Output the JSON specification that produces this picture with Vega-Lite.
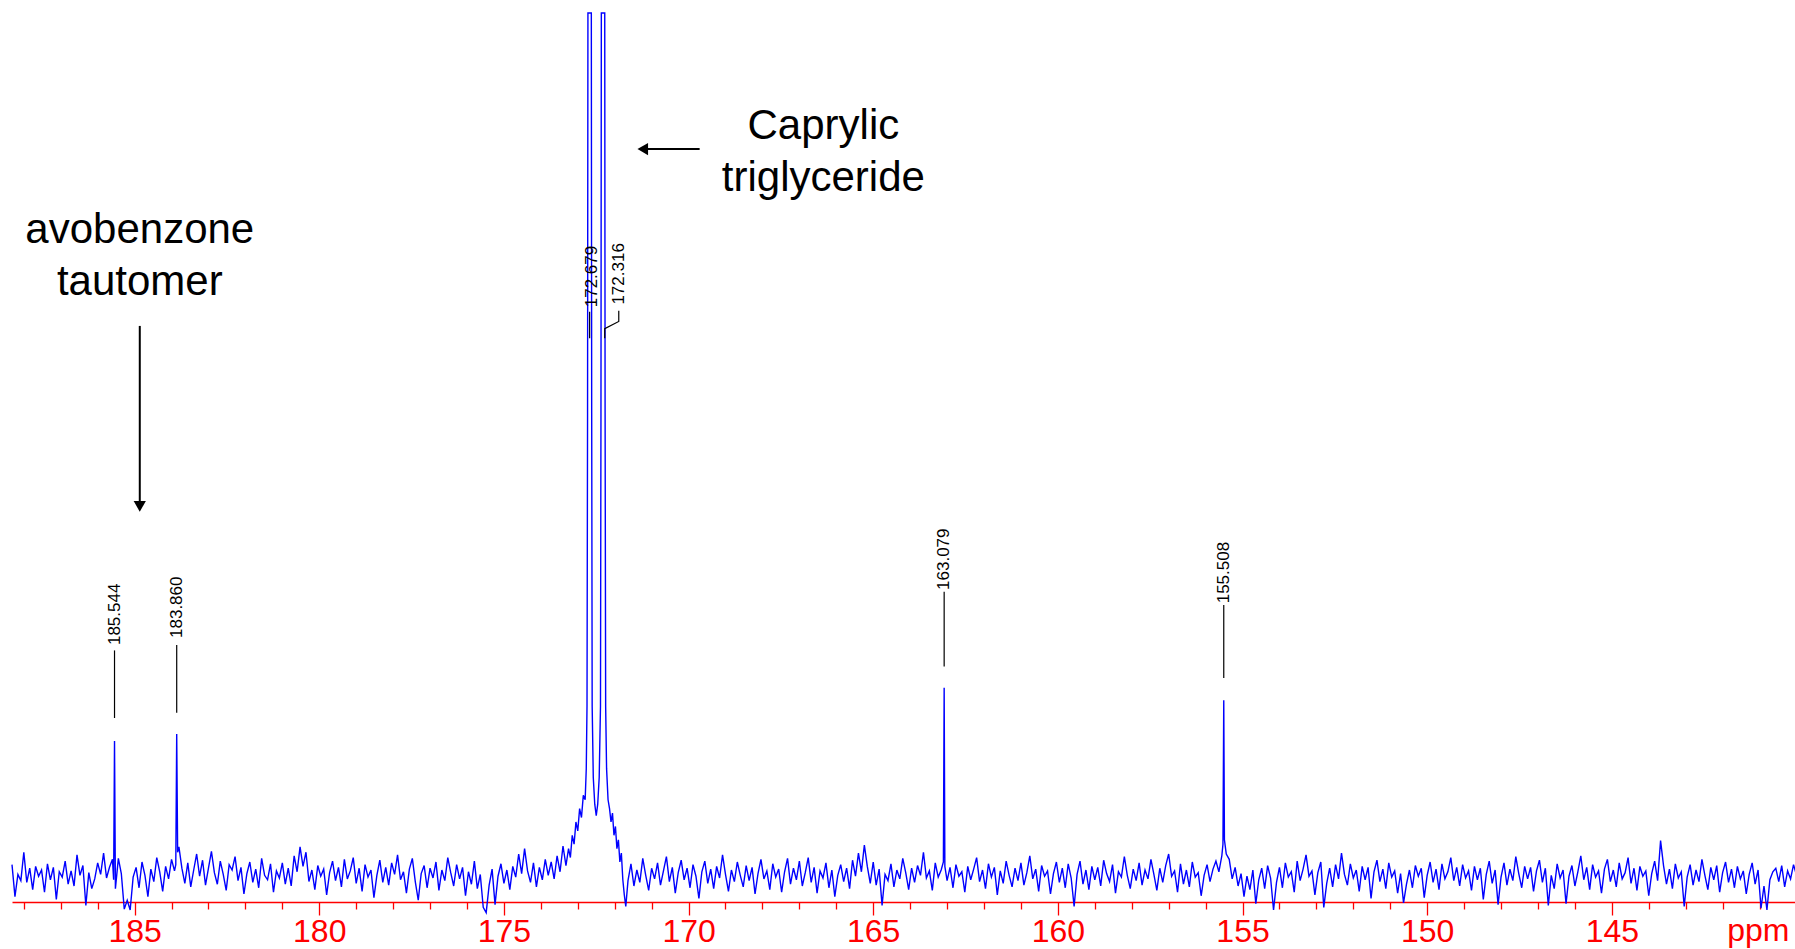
{
  "$schema": "https://vega.github.io/schema/vega-lite/v6.json",
  "width": 1783,
  "height": 889,
  "autosize": {"type": "none"},
  "padding": {"left": 12, "top": 13, "right": 0, "bottom": 47},
  "background": "white",
  "config": {"view": {"stroke": null}, "axis": {"grid": false}},
  "datasets": {
    "spectrum": [
      {"p":188.32,"i":4.2},{"p":188.24,"i":0.6},{"p":188.16,"i":3.1},{"p":188.08,"i":2.4},{"p":188.00,"i":5.6},{"p":187.92,"i":2.2},{"p":187.84,"i":3.8},{"p":187.76,"i":1.4},{"p":187.68,"i":4.0},{"p":187.60,"i":2.9},
      {"p":187.52,"i":3.6},{"p":187.44,"i":1.1},{"p":187.36,"i":4.3},{"p":187.28,"i":2.5},{"p":187.20,"i":3.9},{"p":187.12,"i":0.3},{"p":187.04,"i":3.4},{"p":186.96,"i":2.8},{"p":186.88,"i":4.6},{"p":186.80,"i":2.0},
      {"p":186.72,"i":3.5},{"p":186.64,"i":1.8},{"p":186.56,"i":5.3},{"p":186.48,"i":3.0},{"p":186.40,"i":4.1},{"p":186.32,"i":-0.4},{"p":186.24,"i":3.3},{"p":186.16,"i":1.5},{"p":186.08,"i":2.6},{"p":186.00,"i":4.4},
      {"p":185.92,"i":3.1},{"p":185.84,"i":5.5},{"p":185.76,"i":2.7},{"p":185.68,"i":3.9},{"p":185.60,"i":4.8},{"p":185.568,"i":2.5},{"p":185.544,"i":18.1},{"p":185.52,"i":1.5},{"p":185.44,"i":4.9},{"p":185.36,"i":3.2},
      {"p":185.28,"i":-0.8},{"p":185.20,"i":0.2},{"p":185.12,"i":-0.9},{"p":185.04,"i":2.8},{"p":184.96,"i":3.9},{"p":184.88,"i":1.6},{"p":184.80,"i":4.5},{"p":184.72,"i":3.0},{"p":184.64,"i":0.6},{"p":184.56,"i":3.7},
      {"p":184.48,"i":2.3},{"p":184.40,"i":5.0},{"p":184.32,"i":3.4},{"p":184.24,"i":1.2},{"p":184.16,"i":4.0},{"p":184.08,"i":2.6},{"p":184.00,"i":4.8},{"p":183.92,"i":3.5},{"p":183.885,"i":4.2},{"p":183.86,"i":18.9},
      {"p":183.835,"i":5.6},{"p":183.80,"i":6.2},{"p":183.72,"i":3.8},{"p":183.64,"i":2.1},{"p":183.56,"i":4.4},{"p":183.48,"i":1.7},{"p":183.40,"i":3.6},{"p":183.32,"i":5.4},{"p":183.24,"i":2.9},{"p":183.16,"i":4.7},
      {"p":183.08,"i":1.9},{"p":183.00,"i":3.8},{"p":182.92,"i":5.7},{"p":182.84,"i":3.3},{"p":182.76,"i":2.0},{"p":182.68,"i":4.6},{"p":182.60,"i":3.1},{"p":182.52,"i":1.3},{"p":182.44,"i":4.2},{"p":182.36,"i":3.6},
      {"p":182.28,"i":5.1},{"p":182.20,"i":2.4},{"p":182.12,"i":3.9},{"p":182.04,"i":0.9},{"p":181.96,"i":3.2},{"p":181.88,"i":4.5},{"p":181.80,"i":2.2},{"p":181.72,"i":3.7},{"p":181.64,"i":1.6},{"p":181.56,"i":4.9},
      {"p":181.48,"i":3.0},{"p":181.40,"i":2.5},{"p":181.32,"i":4.3},{"p":181.24,"i":1.1},{"p":181.16,"i":3.5},{"p":181.08,"i":2.7},{"p":181.00,"i":4.4},{"p":180.92,"i":2.0},{"p":180.84,"i":3.8},{"p":180.76,"i":1.8},
      {"p":180.68,"i":5.2},{"p":180.60,"i":3.4},{"p":180.52,"i":6.2},{"p":180.44,"i":4.0},{"p":180.36,"i":5.6},{"p":180.28,"i":2.3},{"p":180.20,"i":3.6},{"p":180.12,"i":1.4},{"p":180.04,"i":4.1},{"p":179.96,"i":2.9},
      {"p":179.88,"i":3.7},{"p":179.80,"i":0.8},{"p":179.72,"i":3.3},{"p":179.64,"i":4.6},{"p":179.56,"i":2.4},{"p":179.48,"i":3.9},{"p":179.40,"i":1.7},{"p":179.32,"i":4.8},{"p":179.24,"i":2.6},{"p":179.16,"i":3.5},
      {"p":179.08,"i":5.0},{"p":179.00,"i":2.1},{"p":178.92,"i":3.8},{"p":178.84,"i":1.2},{"p":178.76,"i":4.2},{"p":178.68,"i":2.8},{"p":178.60,"i":3.6},{"p":178.52,"i":0.5},{"p":178.44,"i":3.0},{"p":178.36,"i":4.7},
      {"p":178.28,"i":2.2},{"p":178.20,"i":3.9},{"p":178.12,"i":1.9},{"p":178.04,"i":4.4},{"p":177.96,"i":3.1},{"p":177.88,"i":5.3},{"p":177.80,"i":2.5},{"p":177.72,"i":3.4},{"p":177.64,"i":1.0},{"p":177.56,"i":3.7},
      {"p":177.48,"i":4.9},{"p":177.40,"i":2.3},{"p":177.32,"i":0.2},{"p":177.24,"i":3.2},{"p":177.16,"i":4.1},{"p":177.08,"i":1.6},{"p":177.00,"i":3.8},{"p":176.92,"i":2.7},{"p":176.84,"i":4.5},{"p":176.76,"i":1.3},
      {"p":176.68,"i":3.6},{"p":176.60,"i":2.4},{"p":176.52,"i":5.0},{"p":176.44,"i":3.3},{"p":176.36,"i":1.8},{"p":176.28,"i":4.2},{"p":176.20,"i":2.6},{"p":176.12,"i":3.9},{"p":176.04,"i":0.7},{"p":175.96,"i":3.4},
      {"p":175.88,"i":2.0},{"p":175.80,"i":4.6},{"p":175.72,"i":1.5},{"p":175.64,"i":3.1},{"p":175.56,"i":-0.6},{"p":175.48,"i":-1.2},{"p":175.40,"i":1.9},{"p":175.32,"i":3.7},{"p":175.24,"i":-0.3},{"p":175.16,"i":2.9},
      {"p":175.08,"i":4.3},{"p":175.00,"i":2.1},{"p":174.92,"i":3.6},{"p":174.84,"i":1.4},{"p":174.76,"i":4.0},{"p":174.68,"i":2.8},{"p":174.60,"i":5.4},{"p":174.52,"i":3.2},{"p":174.44,"i":6.0},{"p":174.36,"i":3.5},
      {"p":174.28,"i":2.2},{"p":174.20,"i":4.4},{"p":174.12,"i":1.7},{"p":174.04,"i":3.9},{"p":173.96,"i":2.5},{"p":173.88,"i":4.8},{"p":173.80,"i":3.0},{"p":173.72,"i":4.5},{"p":173.64,"i":2.6},{"p":173.56,"i":5.2},
      {"p":173.48,"i":3.4},{"p":173.40,"i":6.3},{"p":173.32,"i":4.1},{"p":173.25,"i":6.0},{"p":173.20,"i":5.0},{"p":173.15,"i":7.5},{"p":173.10,"i":6.5},{"p":173.05,"i":9.0},{"p":173.00,"i":8.0},{"p":172.95,"i":10.5},
      {"p":172.90,"i":9.5},{"p":172.85,"i":12.0},{"p":172.80,"i":11.5},{"p":172.77,"i":15.0},{"p":172.75,"i":22},{"p":172.735,"i":55},{"p":172.725,"i":100},{"p":172.633,"i":100},{"p":172.623,"i":55},{"p":172.61,"i":22},
      {"p":172.58,"i":14},{"p":172.54,"i":11},{"p":172.50,"i":9.7},{"p":172.46,"i":11},{"p":172.42,"i":14},{"p":172.385,"i":22},{"p":172.372,"i":55},{"p":172.362,"i":100},{"p":172.27,"i":100},{"p":172.26,"i":55},
      {"p":172.245,"i":22},{"p":172.22,"i":15},{"p":172.18,"i":11.5},{"p":172.14,"i":10.5},{"p":172.10,"i":9},{"p":172.06,"i":10},{"p":172.02,"i":7.5},{"p":171.98,"i":8.5},{"p":171.94,"i":6},{"p":171.90,"i":7},
      {"p":171.86,"i":4.5},{"p":171.82,"i":5.5},{"p":171.78,"i":2.5},{"p":171.74,"i":0.8},{"p":171.70,"i":-0.5},{"p":171.64,"i":2.4},{"p":171.56,"i":4.3},{"p":171.48,"i":1.8},{"p":171.40,"i":3.6},{"p":171.32,"i":2.2},
      {"p":171.24,"i":4.9},{"p":171.16,"i":3.0},{"p":171.08,"i":1.3},{"p":171.00,"i":3.8},{"p":170.92,"i":2.6},{"p":170.84,"i":4.4},{"p":170.76,"i":1.9},{"p":170.68,"i":3.5},{"p":170.60,"i":5.1},{"p":170.52,"i":2.3},
      {"p":170.44,"i":3.9},{"p":170.36,"i":1.0},{"p":170.28,"i":3.3},{"p":170.20,"i":4.7},{"p":170.12,"i":2.5},{"p":170.04,"i":3.8},{"p":169.96,"i":1.6},{"p":169.88,"i":4.2},{"p":169.80,"i":2.9},{"p":169.72,"i":0.4},
      {"p":169.64,"i":3.4},{"p":169.56,"i":4.6},{"p":169.48,"i":2.1},{"p":169.40,"i":3.7},{"p":169.32,"i":1.5},{"p":169.24,"i":4.0},{"p":169.16,"i":2.7},{"p":169.08,"i":5.3},{"p":169.00,"i":3.1},{"p":168.92,"i":1.2},
      {"p":168.84,"i":3.6},{"p":168.76,"i":2.3},{"p":168.68,"i":4.5},{"p":168.60,"i":3.0},{"p":168.52,"i":1.7},{"p":168.44,"i":4.1},{"p":168.36,"i":2.4},{"p":168.28,"i":3.9},{"p":168.20,"i":0.9},{"p":168.12,"i":3.2},
      {"p":168.04,"i":4.8},{"p":167.96,"i":2.6},{"p":167.88,"i":3.5},{"p":167.80,"i":1.4},{"p":167.72,"i":4.3},{"p":167.64,"i":2.8},{"p":167.56,"i":3.7},{"p":167.48,"i":1.1},{"p":167.40,"i":3.4},{"p":167.32,"i":4.9},
      {"p":167.24,"i":2.0},{"p":167.16,"i":3.8},{"p":167.08,"i":2.5},{"p":167.00,"i":4.6},{"p":166.92,"i":1.8},{"p":166.84,"i":3.3},{"p":166.76,"i":5.0},{"p":166.68,"i":2.2},{"p":166.60,"i":3.9},{"p":166.52,"i":1.0},
      {"p":166.44,"i":3.5},{"p":166.36,"i":2.7},{"p":166.28,"i":4.4},{"p":166.20,"i":1.6},{"p":166.12,"i":3.6},{"p":166.04,"i":0.6},{"p":165.96,"i":3.0},{"p":165.88,"i":4.2},{"p":165.80,"i":2.3},{"p":165.72,"i":3.8},
      {"p":165.64,"i":1.5},{"p":165.56,"i":4.7},{"p":165.48,"i":2.9},{"p":165.40,"i":5.5},{"p":165.32,"i":3.4},{"p":165.24,"i":6.4},{"p":165.16,"i":4.0},{"p":165.08,"i":2.1},{"p":165.00,"i":4.5},{"p":164.92,"i":1.9},
      {"p":164.84,"i":3.7},{"p":164.76,"i":-0.4},{"p":164.68,"i":3.1},{"p":164.60,"i":2.4},{"p":164.52,"i":4.3},{"p":164.44,"i":1.7},{"p":164.36,"i":3.6},{"p":164.28,"i":2.6},{"p":164.20,"i":4.9},{"p":164.12,"i":3.3},
      {"p":164.04,"i":1.4},{"p":163.96,"i":3.8},{"p":163.88,"i":2.2},{"p":163.80,"i":4.1},{"p":163.72,"i":3.0},{"p":163.64,"i":5.6},{"p":163.56,"i":2.7},{"p":163.48,"i":3.5},{"p":163.40,"i":1.3},{"p":163.32,"i":4.4},
      {"p":163.24,"i":2.8},{"p":163.16,"i":3.6},{"p":163.10,"i":4.5},{"p":163.079,"i":24.1},{"p":163.06,"i":4.0},{"p":163.00,"i":2.4},{"p":162.92,"i":3.9},{"p":162.84,"i":1.6},{"p":162.76,"i":4.2},{"p":162.68,"i":2.9},
      {"p":162.60,"i":3.4},{"p":162.52,"i":1.1},{"p":162.44,"i":4.0},{"p":162.36,"i":2.5},{"p":162.28,"i":3.7},{"p":162.20,"i":5.0},{"p":162.12,"i":2.3},{"p":162.04,"i":3.6},{"p":161.96,"i":1.5},{"p":161.88,"i":4.3},
      {"p":161.80,"i":2.8},{"p":161.72,"i":3.9},{"p":161.64,"i":0.8},{"p":161.56,"i":3.5},{"p":161.48,"i":2.1},{"p":161.40,"i":4.6},{"p":161.32,"i":3.0},{"p":161.24,"i":1.7},{"p":161.16,"i":3.8},{"p":161.08,"i":2.4},
      {"p":161.00,"i":4.4},{"p":160.92,"i":1.9},{"p":160.84,"i":3.3},{"p":160.76,"i":5.2},{"p":160.68,"i":2.6},{"p":160.60,"i":3.7},{"p":160.52,"i":1.2},{"p":160.44,"i":4.1},{"p":160.36,"i":2.9},{"p":160.28,"i":3.5},
      {"p":160.20,"i":0.9},{"p":160.12,"i":3.2},{"p":160.04,"i":4.5},{"p":159.96,"i":2.2},{"p":159.88,"i":3.8},{"p":159.80,"i":1.6},{"p":159.72,"i":4.3},{"p":159.64,"i":2.7},{"p":159.56,"i":-0.5},{"p":159.48,"i":3.1},
      {"p":159.40,"i":4.6},{"p":159.32,"i":2.0},{"p":159.24,"i":3.6},{"p":159.16,"i":1.4},{"p":159.08,"i":4.0},{"p":159.00,"i":2.5},{"p":158.92,"i":3.9},{"p":158.84,"i":1.8},{"p":158.76,"i":4.7},{"p":158.68,"i":3.2},
      {"p":158.60,"i":2.3},{"p":158.52,"i":4.2},{"p":158.44,"i":1.0},{"p":158.36,"i":3.4},{"p":158.28,"i":2.8},{"p":158.20,"i":5.1},{"p":158.12,"i":3.0},{"p":158.04,"i":1.5},{"p":157.96,"i":3.7},{"p":157.88,"i":2.4},
      {"p":157.80,"i":4.4},{"p":157.72,"i":1.9},{"p":157.64,"i":3.6},{"p":157.56,"i":2.6},{"p":157.48,"i":4.8},{"p":157.40,"i":3.1},{"p":157.32,"i":1.3},{"p":157.24,"i":3.8},{"p":157.16,"i":2.2},{"p":157.08,"i":4.1},
      {"p":157.00,"i":5.4},{"p":156.92,"i":2.9},{"p":156.84,"i":3.5},{"p":156.76,"i":1.1},{"p":156.68,"i":4.3},{"p":156.60,"i":2.0},{"p":156.52,"i":3.6},{"p":156.44,"i":1.7},{"p":156.36,"i":4.5},{"p":156.28,"i":2.8},
      {"p":156.20,"i":3.3},{"p":156.12,"i":0.7},{"p":156.04,"i":3.0},{"p":155.96,"i":4.2},{"p":155.88,"i":2.3},{"p":155.80,"i":3.7},{"p":155.72,"i":4.6},{"p":155.64,"i":3.4},{"p":155.56,"i":5.2},{"p":155.53,"i":6.5},
      {"p":155.508,"i":22.7},{"p":155.49,"i":7.0},{"p":155.44,"i":5.4},{"p":155.36,"i":4.8},{"p":155.28,"i":2.6},{"p":155.20,"i":3.9},{"p":155.12,"i":1.8},{"p":155.04,"i":3.2},{"p":154.96,"i":0.6},{"p":154.88,"i":2.9},
      {"p":154.80,"i":1.4},{"p":154.72,"i":3.6},{"p":154.64,"i":-0.2},{"p":154.56,"i":2.5},{"p":154.48,"i":3.8},{"p":154.40,"i":1.5},{"p":154.32,"i":4.1},{"p":154.24,"i":2.7},{"p":154.16,"i":-0.9},{"p":154.08,"i":2.2},
      {"p":154.00,"i":3.9},{"p":153.92,"i":1.6},{"p":153.84,"i":4.4},{"p":153.76,"i":2.8},{"p":153.68,"i":3.4},{"p":153.60,"i":1.1},{"p":153.52,"i":4.6},{"p":153.44,"i":2.4},{"p":153.36,"i":3.7},{"p":153.28,"i":5.3},
      {"p":153.20,"i":2.9},{"p":153.12,"i":3.5},{"p":153.04,"i":0.8},{"p":152.96,"i":3.3},{"p":152.88,"i":4.5},{"p":152.80,"i":-0.6},{"p":152.72,"i":2.1},{"p":152.64,"i":3.8},{"p":152.56,"i":1.7},{"p":152.48,"i":4.2},
      {"p":152.40,"i":2.6},{"p":152.32,"i":5.5},{"p":152.24,"i":3.1},{"p":152.16,"i":1.9},{"p":152.08,"i":4.3},{"p":152.00,"i":2.7},{"p":151.92,"i":3.6},{"p":151.84,"i":1.2},{"p":151.76,"i":4.0},{"p":151.68,"i":2.5},
      {"p":151.60,"i":3.9},{"p":151.52,"i":0.4},{"p":151.44,"i":3.4},{"p":151.36,"i":4.7},{"p":151.28,"i":2.3},{"p":151.20,"i":3.7},{"p":151.12,"i":1.5},{"p":151.04,"i":4.4},{"p":150.96,"i":2.8},{"p":150.88,"i":3.5},
      {"p":150.80,"i":1.0},{"p":150.72,"i":3.2},{"p":150.64,"i":-0.1},{"p":150.56,"i":2.0},{"p":150.48,"i":3.6},{"p":150.40,"i":1.6},{"p":150.32,"i":4.1},{"p":150.24,"i":2.9},{"p":150.16,"i":3.8},{"p":150.08,"i":0.5},
      {"p":150.00,"i":3.0},{"p":149.92,"i":4.5},{"p":149.84,"i":2.2},{"p":149.76,"i":3.7},{"p":149.68,"i":1.4},{"p":149.60,"i":4.3},{"p":149.52,"i":2.6},{"p":149.44,"i":3.4},{"p":149.36,"i":5.0},{"p":149.28,"i":2.4},
      {"p":149.20,"i":3.9},{"p":149.12,"i":1.8},{"p":149.04,"i":4.2},{"p":148.96,"i":2.7},{"p":148.88,"i":3.5},{"p":148.80,"i":1.3},{"p":148.72,"i":4.0},{"p":148.64,"i":2.5},{"p":148.56,"i":3.8},{"p":148.48,"i":0.3},
      {"p":148.40,"i":3.1},{"p":148.32,"i":4.6},{"p":148.24,"i":2.1},{"p":148.16,"i":3.6},{"p":148.08,"i":-0.3},{"p":148.00,"i":2.8},{"p":147.92,"i":4.4},{"p":147.84,"i":1.9},{"p":147.76,"i":3.7},{"p":147.68,"i":2.4},
      {"p":147.60,"i":5.1},{"p":147.52,"i":3.2},{"p":147.44,"i":1.6},{"p":147.36,"i":4.0},{"p":147.28,"i":2.6},{"p":147.20,"i":3.9},{"p":147.12,"i":1.2},{"p":147.04,"i":3.5},{"p":146.96,"i":4.7},{"p":146.88,"i":2.2},
      {"p":146.80,"i":3.8},{"p":146.72,"i":-0.4},{"p":146.64,"i":3.0},{"p":146.56,"i":1.5},{"p":146.48,"i":4.3},{"p":146.40,"i":2.7},{"p":146.32,"i":3.6},{"p":146.24,"i":-0.2},{"p":146.16,"i":2.9},{"p":146.08,"i":4.1},
      {"p":146.00,"i":1.8},{"p":145.92,"i":3.4},{"p":145.84,"i":5.2},{"p":145.76,"i":2.5},{"p":145.68,"i":3.9},{"p":145.60,"i":1.4},{"p":145.52,"i":4.2},{"p":145.44,"i":2.8},{"p":145.36,"i":3.5},{"p":145.28,"i":1.0},
      {"p":145.20,"i":3.7},{"p":145.12,"i":4.8},{"p":145.04,"i":2.3},{"p":144.96,"i":3.6},{"p":144.88,"i":1.7},{"p":144.80,"i":4.4},{"p":144.72,"i":2.6},{"p":144.64,"i":3.3},{"p":144.56,"i":5.0},{"p":144.48,"i":2.1},
      {"p":144.40,"i":3.8},{"p":144.32,"i":1.3},{"p":144.24,"i":4.0},{"p":144.16,"i":2.9},{"p":144.08,"i":3.5},{"p":144.00,"i":0.7},{"p":143.92,"i":3.2},{"p":143.84,"i":4.6},{"p":143.76,"i":2.4},{"p":143.68,"i":6.9},
      {"p":143.60,"i":4.1},{"p":143.52,"i":2.0},{"p":143.44,"i":3.7},{"p":143.36,"i":1.5},{"p":143.28,"i":4.3},{"p":143.20,"i":2.7},{"p":143.12,"i":3.4},{"p":143.04,"i":-0.5},{"p":142.96,"i":2.8},{"p":142.88,"i":4.2},
      {"p":142.80,"i":1.9},{"p":142.72,"i":3.6},{"p":142.64,"i":2.3},{"p":142.56,"i":4.8},{"p":142.48,"i":3.0},{"p":142.40,"i":1.4},{"p":142.32,"i":3.9},{"p":142.24,"i":2.5},{"p":142.16,"i":4.1},{"p":142.08,"i":1.1},
      {"p":142.00,"i":3.3},{"p":141.92,"i":4.5},{"p":141.84,"i":2.2},{"p":141.76,"i":3.7},{"p":141.68,"i":1.6},{"p":141.60,"i":4.0},{"p":141.52,"i":2.6},{"p":141.44,"i":3.5},{"p":141.36,"i":0.9},{"p":141.28,"i":3.1},
      {"p":141.20,"i":4.4},{"p":141.12,"i":2.0},{"p":141.04,"i":3.6},{"p":140.96,"i":-0.7},{"p":140.88,"i":1.8},{"p":140.80,"i":-0.9},{"p":140.72,"i":2.5},{"p":140.64,"i":3.4},{"p":140.56,"i":3.8},{"p":140.48,"i":2.3},
      {"p":140.40,"i":4.1},{"p":140.32,"i":1.7},{"p":140.24,"i":3.5},{"p":140.16,"i":2.6},{"p":140.08,"i":4.2},{"p":140.00,"i":3.0}
    ],
    "peaks": [
      {"t":"185.544","p":185.544,"i":28.9},
      {"t":"183.860","p":183.86,"i":29.7},
      {"t":"172.679","p":172.62,"i":66.9},
      {"t":"172.316","p":171.89,"i":67.2},
      {"t":"163.079","p":163.079,"i":35.1},
      {"t":"155.508","p":155.508,"i":33.6}
    ],
    "leaders": [
      {"g":"185.544","k":0,"p":185.544,"i":28.3},{"g":"185.544","k":1,"p":185.544,"i":20.7},
      {"g":"183.860","k":0,"p":183.86,"i":28.9},{"g":"183.860","k":1,"p":183.86,"i":21.3},
      {"g":"172.679","k":0,"p":172.679,"i":66.4},{"g":"172.679","k":1,"p":172.679,"i":63.4},
      {"g":"172.316","k":0,"p":171.89,"i":66.5},{"g":"172.316","k":1,"p":171.89,"i":65.3},{"g":"172.316","k":2,"p":172.27,"i":64.5},{"g":"172.316","k":3,"p":172.27,"i":63.4},
      {"g":"163.079","k":0,"p":163.079,"i":34.9},{"g":"163.079","k":1,"p":163.079,"i":26.5},
      {"g":"155.508","k":0,"p":155.508,"i":33.4},{"g":"155.508","k":1,"p":155.508,"i":25.2}
    ],
    "notes": [
      {"t":"Caprylic\ntriglyceride","p":166.35,"i":85.8},
      {"t":"avobenzone\ntautomer","p":184.86,"i":74.1}
    ],
    "arrows": [
      {"dir":"left","p":169.7,"p2":171.24,"i":84.7,"i2":84.7},
      {"dir":"down","p":184.86,"p2":184.86,"i":64.8,"i2":44.5}
    ]
  },
  "encoding": {
    "x": {
      "field": "p",
      "type": "quantitative",
      "scale": {"domain": [140.04, 188.32], "reverse": true, "nice": false, "zero": false},
      "axis": {
        "values": [141,142,143,144,145,146,147,148,149,150,151,152,153,154,155,156,157,158,159,160,161,162,163,164,165,166,167,168,169,170,171,172,173,174,175,176,177,178,179,180,181,182,183,184,185,186,187,188],
        "format": "d",
        "labelExpr": "datum.value % 5 === 0 ? datum.label : ''",
        "domainColor": "#FF0000",
        "domainWidth": 1.3,
        "tickColor": "#FF0000",
        "tickWidth": 1.3,
        "tickSize": {"condition": {"test": "datum.value % 5 === 0", "value": 13}, "value": 7},
        "labelColor": "#FF0000",
        "labelFont": "Liberation Sans Narrow, Arial Narrow, Liberation Sans, sans-serif",
        "labelFontSize": 32,
        "labelPadding": 1,
        "labelFlush": false,
        "labelOverlap": false,
        "labelBound": false,
        "title": "ppm",
        "titleColor": "#FF0000",
        "titleFont": "Liberation Sans Narrow, Arial Narrow, Liberation Sans, sans-serif",
        "titleFontSize": 32,
        "titleFontWeight": "normal",
        "titleAlign": "right",
        "titleBaseline": "alphabetic",
        "titleAnchor": "end",
        "titleX": 1777,
        "titleY": 38
      }
    },
    "y": {
      "field": "i",
      "type": "quantitative",
      "scale": {"domain": [0, 100], "nice": false, "zero": false},
      "axis": null
    }
  },
  "layer": [
    {
      "data": {"name": "spectrum"},
      "mark": {"type": "line", "color": "#0000FF", "strokeWidth": 1.4, "clip": false, "interpolate": "linear"}
    },
    {
      "data": {"name": "leaders"},
      "mark": {"type": "line", "color": "#000000", "strokeWidth": 1.2},
      "encoding": {
        "detail": {"field": "g", "type": "nominal"},
        "order": {"field": "k", "type": "quantitative"}
      }
    },
    {
      "data": {"name": "peaks"},
      "mark": {"type": "text", "angle": 270, "align": "left", "baseline": "middle", "font": "Liberation Sans Narrow, Arial Narrow, Liberation Sans, sans-serif", "fontSize": 17, "color": "#000000"},
      "encoding": {"text": {"field": "t", "type": "nominal"}}
    },
    {
      "data": {"name": "notes"},
      "mark": {"type": "text", "align": "center", "baseline": "alphabetic", "lineBreak": "\n", "lineHeight": 52, "font": "Liberation Sans, Arial, sans-serif", "fontSize": 42, "color": "#000000"},
      "encoding": {"text": {"field": "t", "type": "nominal"}}
    },
    {
      "data": {"name": "arrows"},
      "mark": {"type": "rule", "color": "#000000", "strokeWidth": 2},
      "encoding": {
        "x2": {"field": "p2"},
        "y2": {"field": "i2"}
      }
    },
    {
      "data": {"name": "arrows"},
      "transform": [{"filter": "datum.dir === 'left'"}],
      "mark": {"type": "point", "shape": "triangle-left", "filled": true, "color": "#000000", "size": 150, "opacity": 1, "strokeWidth": 0},
      "encoding": {
        "x": {"field": "p2", "type": "quantitative"},
        "y": {"field": "i2", "type": "quantitative"}
      }
    },
    {
      "data": {"name": "arrows"},
      "transform": [{"filter": "datum.dir === 'down'"}],
      "mark": {"type": "point", "shape": "triangle-down", "filled": true, "color": "#000000", "size": 150, "opacity": 1, "strokeWidth": 0},
      "encoding": {
        "x": {"field": "p2", "type": "quantitative"},
        "y": {"field": "i2", "type": "quantitative"}
      }
    }
  ]
}
